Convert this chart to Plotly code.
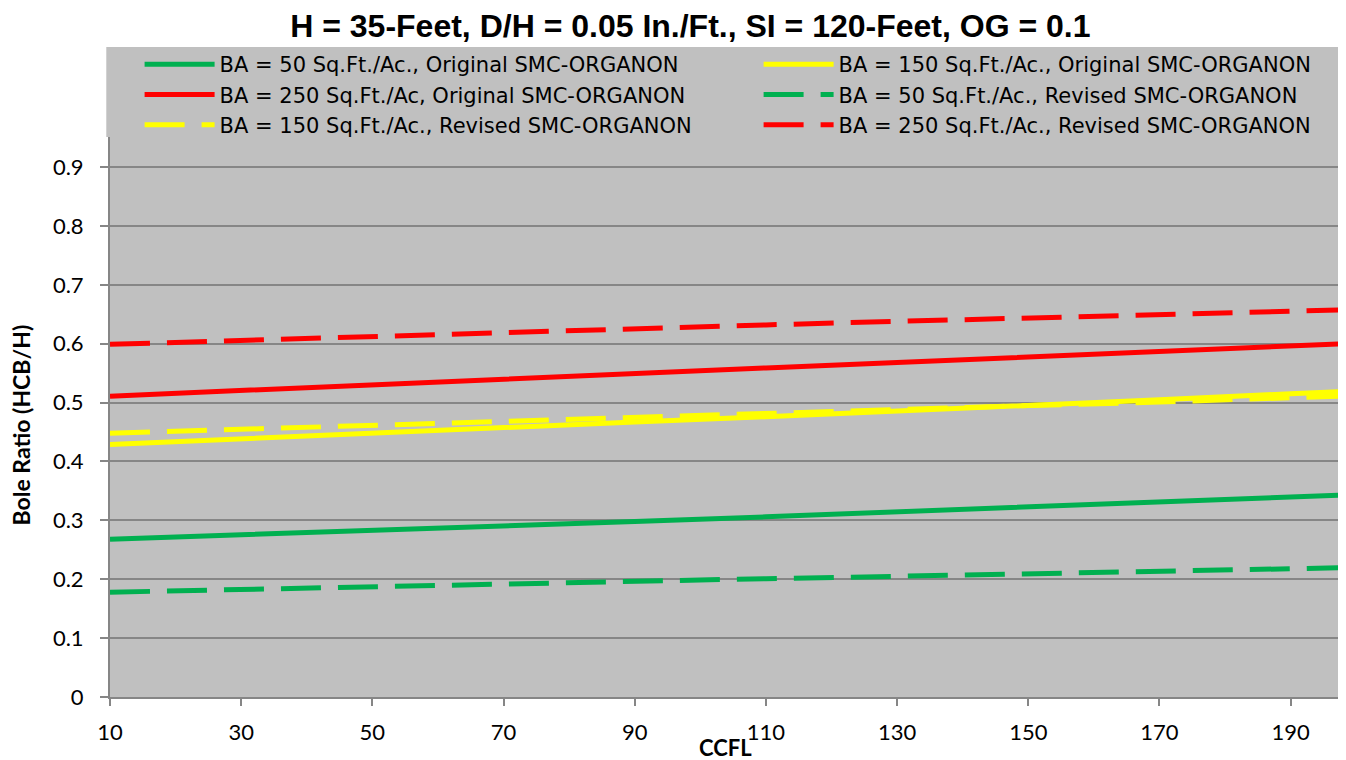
import plotly.graph_objects as go

ccfl = [10, 30, 50, 70, 90, 110, 130, 150, 170, 190, 200]

ba50_orig = [0.268, 0.275, 0.283, 0.291, 0.298, 0.306, 0.314, 0.323, 0.332, 0.340, 0.344]
ba150_orig = [0.429, 0.439, 0.448, 0.457, 0.467, 0.476, 0.485, 0.495, 0.505, 0.515, 0.520]
ba250_orig = [0.511, 0.521, 0.531, 0.541, 0.550, 0.559, 0.568, 0.577, 0.587, 0.597, 0.601]
ba50_rev = [0.178, 0.183, 0.188, 0.192, 0.197, 0.201, 0.205, 0.209, 0.213, 0.218, 0.220]
ba150_rev = [0.448, 0.455, 0.462, 0.469, 0.475, 0.482, 0.488, 0.495, 0.501, 0.508, 0.512]
ba250_rev = [0.599, 0.606, 0.612, 0.619, 0.626, 0.632, 0.638, 0.644, 0.650, 0.656, 0.658]

y_ticks = [0, 0.1, 0.2, 0.3, 0.4, 0.5, 0.6, 0.7, 0.8, 0.9]
y_tick_text = ["0", "0.1", "0.2", "0.3", "0.4", "0.5", "0.6", "0.7", "0.8", "0.9"]
x_ticks = [10, 30, 50, 70, 90, 110, 130, 150, 170, 190]

GREEN = "#00B050"
YELLOW = "#FFFF00"
RED = "#FF0000"
DASH = "40px,17px"

# (name, values, colour, dash, legend column)
series = [
    ("BA = 50 Sq.Ft./Ac., Original SMC-ORGANON", ba50_orig, GREEN, "solid", "legend"),
    ("BA = 250 Sq.Ft./Ac, Original SMC-ORGANON", ba250_orig, RED, "solid", "legend"),
    ("BA = 150 Sq.Ft./Ac., Revised SMC-ORGANON", ba150_rev, YELLOW, DASH, "legend"),
    ("BA = 150 Sq.Ft./Ac., Original SMC-ORGANON", ba150_orig, YELLOW, "solid", "legend2"),
    ("BA = 50 Sq.Ft./Ac., Revised SMC-ORGANON", ba50_rev, GREEN, DASH, "legend2"),
    ("BA = 250 Sq.Ft./Ac., Revised SMC-ORGANON", ba250_rev, RED, DASH, "legend2"),
]

fig = go.Figure()
for name, vals, color, dash, leg in series:
    fig.add_trace(go.Scatter(
        x=ccfl, y=vals, mode="lines", name=name, legend=leg,
        line=dict(color=color, width=5, dash=dash),
    ))

BASE_FONT = "Lato, 'Noto Sans', sans-serif"
LEG_FONT = dict(family="'DejaVu Sans', 'Noto Sans', sans-serif", size=21, color="black")

PLOT_L, PLOT_W, PLOT_B, PLOT_H = 110.0, 1228.0, 697.0, 650.0


def px_x(px):
    return (px - PLOT_L) / PLOT_W


def px_y(py):
    return (PLOT_B - py) / PLOT_H


fig.update_layout(
    width=1338, height=752,
    margin=dict(l=102, r=0, t=39, b=63),
    paper_bgcolor="white",
    plot_bgcolor="#C0C0C0",
    font=dict(family=BASE_FONT, size=22, color="black"),
    title=dict(
        text="<b>H = 35-Feet, D/H = 0.05 In./Ft., SI = 120-Feet, OG = 0.1</b>",
        x=0.51, xanchor="center", y=0.976, yanchor="middle",
        font=dict(family="'Liberation Sans', Arial, sans-serif", size=32, color="black"),
    ),
    showlegend=True,
    legend=dict(
        orientation="v", x=px_x(139.4), xanchor="left", y=px_y(44), yanchor="top",
        bgcolor="rgba(0,0,0,0)", font=LEG_FONT, tracegroupgap=0, itemwidth=70,
    ),
    legend2=dict(
        orientation="v", x=px_x(754.4), xanchor="left", y=px_y(44), yanchor="top",
        bgcolor="rgba(0,0,0,0)", font=LEG_FONT, tracegroupgap=0, itemwidth=70,
    ),
    xaxis=dict(
        range=[10, 10 + PLOT_W / 6.5167],
        tickvals=x_ticks,
        ticks="outside", ticklen=7, tickcolor="#868686", tickwidth=2,
        showline=True, linecolor="#868686", linewidth=2,
        showgrid=False, zeroline=False,
        tickfont=dict(family=BASE_FONT, size=22),
        ticklabelstandoff=8,
    ),
    yaxis=dict(
        range=[0, 1.104],
        tickvals=y_ticks, ticktext=y_tick_text,
        ticks="outside", ticklen=8, tickcolor="#868686", tickwidth=2,
        showline=True, linecolor="#868686", linewidth=2,
        showgrid=True, gridcolor="#868686", gridwidth=2,
        zeroline=False,
        tickfont=dict(family=BASE_FONT, size=22),
        ticklabelstandoff=12,
    ),
    annotations=[
        dict(text="<b>Bole Ratio (HCB/H)</b>", xref="paper", yref="paper",
             x=px_x(22), y=px_y(425), xanchor="center", yanchor="middle",
             textangle=-90, showarrow=False,
             font=dict(family=BASE_FONT, size=23, color="black")),
        dict(text="<b>CCFL</b>", xref="paper", yref="paper",
             x=px_x(722), y=px_y(747), xanchor="center", yanchor="middle",
             showarrow=False,
             font=dict(family=BASE_FONT, size=22, color="black")),
    ],
    shapes=[dict(
        type="rect", xref="paper", yref="paper",
        x0=-0.003, x1=1.0, y0=px_y(137), y1=1.0,
        fillcolor="#C0C0C0", line=dict(width=0), layer="above",
    )],
)

fig.write_html("out.html")
